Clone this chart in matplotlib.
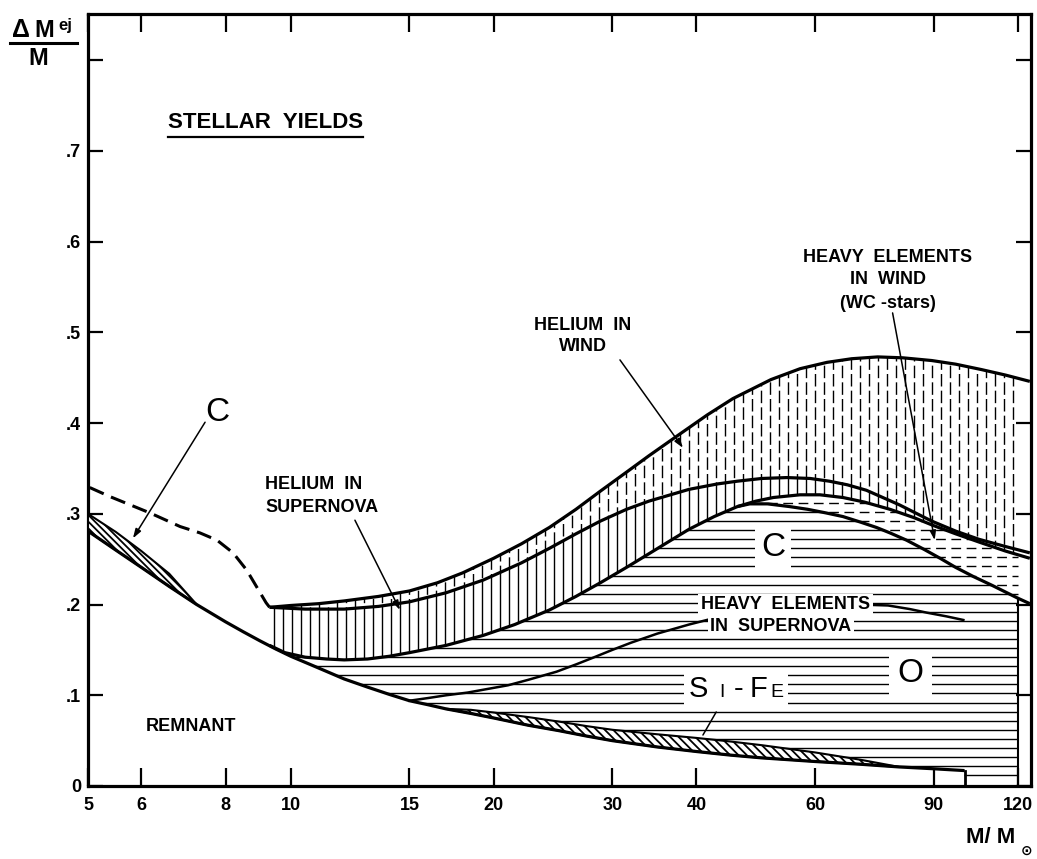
import numpy as np
import matplotlib.pyplot as plt
from matplotlib.patches import Polygon, Rectangle
from matplotlib.collections import LineCollection
from matplotlib.lines import Line2D
from matplotlib.ticker import NullLocator
from matplotlib.transforms import Bbox

plt.rcParams['font.family'] = ['Liberation Sans', 'DejaVu Sans']
plt.rcParams['hatch.linewidth'] = 1.3

# ---- curves (x = M/Msun, y = dM_ej/M) ----
remnant_m = np.array([5, 5.5, 6, 6.6, 7.25, 8, 8.5, 9, 9.5, 10, 11, 12, 13, 14, 15, 16, 17, 18.5, 20,
                      22.5, 25, 27.5, 30, 35, 40, 45, 50, 60, 70, 80, 90, 100])
remnant_y = np.array([0.281, 0.260, 0.241, 0.220, 0.200, 0.181, 0.170, 0.160, 0.151, 0.143, 0.130, 0.118,
                      0.109, 0.101, 0.094, 0.0895, 0.085, 0.080, 0.075, 0.067, 0.061, 0.055, 0.050,
                      0.043, 0.038, 0.034, 0.031, 0.027, 0.024, 0.021, 0.019, 0.017])

# carbon band of the low mass stars
ctop_m = np.array([5, 5.5, 6, 6.6, 7.25])
ctop_y = np.array([0.300, 0.280, 0.259, 0.234, 0.200])

# dashed curve, low masses
dash_m = np.array([5.03, 5.39, 6.18, 6.85, 7.33, 7.77, 8.21, 8.60, 8.89, 9.19, 9.3])
dash_y = np.array([0.329, 0.319, 0.301, 0.286, 0.279, 0.271, 0.257, 0.238, 0.220, 0.202, 0.197])

# top of helium in wind
top_m = np.array([9.3, 10, 11, 12, 13.5, 15, 16.5, 18, 20, 22, 24.2, 26.5, 28.8, 31.5, 34, 37.8, 41.5,
                  45.3, 51.6, 57, 62.5, 68, 74.3, 81, 89.4, 97, 106, 115, 125])
top_y = np.array([0.197, 0.199, 0.201, 0.204, 0.209, 0.215, 0.224, 0.235, 0.251, 0.267, 0.285, 0.305,
                  0.325, 0.346, 0.364, 0.388, 0.409, 0.427, 0.448, 0.460, 0.467, 0.471, 0.473, 0.472,
                  0.469, 0.465, 0.459, 0.453, 0.446])

# helium in wind / helium in supernova
mid_m = np.array([9.3, 10.5, 12, 13.5, 15, 17, 19.3, 22, 24.2, 26.5, 28.8, 31.5, 34, 39, 43, 46, 50,
                  54.5, 59, 63, 67, 71.5, 80, 89.4, 97, 105, 115, 125])
mid_y = np.array([0.197, 0.195, 0.195, 0.198, 0.203, 0.213, 0.227, 0.246, 0.262, 0.278, 0.292, 0.305,
                  0.314, 0.327, 0.333, 0.336, 0.339, 0.340, 0.339, 0.336, 0.332, 0.326, 0.310, 0.292,
                  0.281, 0.272, 0.264, 0.257])

# top of heavy elements
heavy_m = np.array([9.3, 9.8, 10.5, 11.3, 12, 13, 14, 15, 17, 19.3, 21.5, 24.2, 26.5, 28.8, 31.5, 34,
                    36.5, 39, 42.5, 46, 49, 52, 57, 61, 66, 71, 77.5, 84, 90, 97, 105, 115, 125])
heavy_y = np.array([0.155, 0.147, 0.142, 0.140, 0.139, 0.140, 0.143, 0.147, 0.155, 0.166, 0.178, 0.194,
                    0.209, 0.224, 0.241, 0.256, 0.270, 0.283, 0.297, 0.308, 0.314, 0.318, 0.321, 0.321,
                    0.318, 0.313, 0.305, 0.296, 0.287, 0.278, 0.269, 0.259, 0.251])

# top of heavy elements ejected by the supernova (WC stars above)
sn_m = np.array([46, 48, 51, 55, 58.5, 62.3, 66, 70, 74, 77.5, 82, 87, 92, 97, 103, 110, 120, 125])
sn_y = np.array([0.308, 0.311, 0.311, 0.308, 0.305, 0.301, 0.297, 0.291, 0.285, 0.279, 0.271, 0.261,
                 0.251, 0.241, 0.231, 0.221, 0.207, 0.201])

# C / O boundary ("heavy elements in supernova" line)
co_m = np.array([15, 16, 17, 18.3, 19.6, 21, 22.5, 24.8, 26.5, 28, 30, 32, 35, 39, 43, 47, 52, 57, 63,
                 70, 77, 83, 88, 94, 99.6])
co_y = np.array([0.094, 0.097, 0.100, 0.103, 0.107, 0.111, 0.117, 0.126, 0.134, 0.141, 0.150, 0.158,
                 0.168, 0.178, 0.186, 0.191, 0.195, 0.198, 0.200, 0.200, 0.199, 0.195, 0.191, 0.187,
                 0.183])

# Si-Fe band top
sife_m = np.array([17, 18.5, 20, 22.5, 25, 27.5, 30, 35, 40, 45, 50, 60, 70, 80])
sife_y = np.array([0.085, 0.084, 0.081, 0.076, 0.071, 0.066, 0.062, 0.057, 0.053, 0.049, 0.045, 0.037,
                   0.029, 0.021])

x_ticks = [5, 6, 8, 10, 15, 20, 30, 40, 60, 90, 120]
y_ticks = [0, .1, .2, .3, .4, .5, .6, .7, .8]
y_labels = ['0', '.1', '.2', '.3', '.4', '.5', '.6', '.7', '']


fig = plt.figure(figsize=(10.37, 8.59), dpi=100)
ax = fig.add_axes([88 / 1037, 73 / 859, 943 / 1037, 772 / 859])
ax.set_xscale('log')
ax.set_xlim(5, 125.5)
ax.set_ylim(0, 0.851)


def region(xa, ya, xb, yb):
    # outline: curve a forwards, curve b backwards
    pts = np.column_stack([np.r_[xa, xb[::-1]], np.r_[ya, yb[::-1]]])
    p = Polygon(pts, closed=True, facecolor='none', edgecolor='none')
    ax.add_patch(p)
    return p


wind = region(top_m, top_y, mid_m, mid_y)
he_sn = region(mid_m, mid_y, heavy_m, heavy_y)
keep = heavy_m <= 46
low = remnant_m >= 9.3
heavy = region(np.r_[heavy_m[keep], sn_m[1:]], np.r_[heavy_y[keep], sn_y[1:]],
               np.r_[remnant_m[low], remnant_m[-1], 125], np.r_[remnant_y[low], 0, 0])
wc = region(sn_m, sn_y, heavy_m[heavy_m >= 46], heavy_y[heavy_m >= 46])

# hatching
vx = np.exp(np.arange(np.log(9.45), np.log(120.5), 0.0308))
vsegs = [[(x, 0), (x, 0.6)] for x in vx]
lc = LineCollection(vsegs, colors='k', linewidths=1.0, zorder=2)
lc.set_clip_path(he_sn)
ax.add_collection(lc)
for i, off in enumerate([0, 6]):
    lc = LineCollection(vsegs[i::2], colors='k', linewidths=1.0, zorder=2, linestyles=[(off, (9, 3))])
    lc.set_clip_path(wind)
    ax.add_collection(lc)

hy = np.arange(0.012, 0.40, 0.01)
lc = LineCollection([[(9.3, y), (120, y)] for y in hy], colors='k', linewidths=1.0, zorder=2)
lc.set_clip_path(heavy)
ax.add_collection(lc)
lc = LineCollection([[(46, y), (120, y)] for y in hy], colors='k', linewidths=1.0, zorder=2,
                    linestyles=[(0, (7, 4))])
lc.set_clip_path(wc)
ax.add_collection(lc)

# thin bands
rs = (remnant_m >= 17) & (remnant_m <= 80)
ax.fill(np.r_[sife_m, remnant_m[rs][::-1]], np.r_[sife_y, remnant_y[rs][::-1]],
        facecolor='white', edgecolor='k', hatch='\\\\\\\\', lw=1.5, zorder=3)
ax.fill(np.r_[ctop_m, remnant_m[:5][::-1]], np.r_[ctop_y, remnant_y[:5][::-1]],
        facecolor='white', edgecolor='k', hatch='\\\\\\\\\\', lw=1.5, zorder=3)

# boundary curves
kw = dict(color='k', lw=2.3, zorder=4, solid_capstyle='butt', solid_joinstyle='round')
ax.plot(remnant_m, remnant_y, **kw)
ax.plot(top_m, top_y, **kw)
ax.plot(mid_m, mid_y, **kw)
ax.plot(heavy_m, heavy_y, **kw)
ax.plot(sn_m, sn_y, **kw)
ax.plot(co_m, co_y, color='k', lw=1.8, zorder=4)
ax.plot(dash_m, dash_y, color='k', lw=2.2, ls=(0, (5, 2.6)), zorder=4)
ax.plot([remnant_m[-1]] * 2, [remnant_y[-1], 0], color='k', lw=2.0, zorder=4)
ax.plot([sn_m[-2]] * 2, [0, sn_y[-2]], color='k', lw=1.5, zorder=4)

# labels
box = dict(facecolor='white', edgecolor='none', pad=2)
bold = dict(fontweight='bold', fontsize=13, color='k', zorder=6)
ax.text(7.11, 0.0656, 'REMNANT', ha='center', va='center', **bold)
ax.text(9.16, 0.3324, 'HELIUM  IN', ha='left', va='center', **bold)
ax.text(9.16, 0.307, 'SUPERNOVA', ha='left', va='center', **bold)
ax.text(27.1, 0.508, 'HELIUM  IN', ha='center', va='center', **bold)
ax.text(27.1, 0.4846, 'WIND', ha='center', va='center', **bold)
ax.text(76.9, 0.5827, 'HEAVY  ELEMENTS', ha='center', va='center', **bold)
ax.text(76.9, 0.5579, 'IN  WIND', ha='center', va='center', **bold)
ax.text(76.9, 0.532, '(WC -stars)', ha='center', va='center', **bold)
ax.text(54.2, 0.1996, 'HEAVY  ELEMENTS', ha='center', va='center', bbox=box, **bold)
ax.text(53.4, 0.1753, 'IN  SUPERNOVA', ha='center', va='center', bbox=box, **bold)
ax.text(7.77, 0.412, 'C', ha='center', va='center', fontsize=24, zorder=6)
ax.text(52.0, 0.2624, 'C', ha='center', va='center', fontsize=24, zorder=6,
        bbox=dict(facecolor='white', edgecolor='none', pad=4))
ax.text(83.2, 0.1235, 'O', ha='center', va='center', fontsize=24, zorder=6,
        bbox=dict(facecolor='white', edgecolor='none', pad=6))

# Si-Fe in small capitals
sife_txt = []
for s, dx, fs in [('S', 0, 21), ('I', 17, 14), ('-', 29, 21), ('F', 43, 21), ('E', 56, 14)]:
    sife_txt.append(ax.annotate(s, xy=(40.3, 0.0981), xytext=(dx, 0), textcoords='offset points',
                                ha='center', va='baseline', fontsize=fs, zorder=6))

title = ax.text(6.57, 0.7255, 'STELLAR  YIELDS', ha='left', va='baseline', fontsize=16,
                fontweight='bold', zorder=6)

# pointers
head = dict(arrowstyle='-|>,head_length=0.55,head_width=0.18', color='k', lw=1.1,
            shrinkA=0, shrinkB=0)
plain = dict(arrowstyle='-', color='k', lw=1.1, shrinkA=0, shrinkB=0)
ax.annotate('', xy=(5.83, 0.273), xytext=(7.46, 0.401), arrowprops=head, zorder=6)
ax.annotate('', xy=(14.52, 0.194), xytext=(12.45, 0.293), arrowprops=head, zorder=6)
ax.annotate('', xy=(38.2, 0.3727), xytext=(30.8, 0.4697), arrowprops=head, zorder=6)
ax.annotate('', xy=(90.3, 0.271), xytext=(78.2, 0.5215), arrowprops=head, zorder=6)
ax.annotate('', xy=(40.9, 0.0562), xytext=(42.8, 0.0816), arrowprops=plain, zorder=6)

# axes
ax.set_xticks(x_ticks)
ax.set_xticklabels([str(v) for v in x_ticks])
ax.xaxis.set_minor_locator(NullLocator())
ax.set_yticks(y_ticks)
ax.set_yticklabels(y_labels)
ax.tick_params(axis='x', which='major', direction='in', length=13, width=1.6, top=True,
               pad=8, labelsize=13)
ax.tick_params(axis='y', which='major', direction='in', length=11, width=1.6, right=True,
               pad=5, labelsize=13)
for lbl in ax.get_xticklabels() + ax.get_yticklabels():
    lbl.set_fontweight('bold')
for sp in ax.spines.values():
    sp.set_linewidth(2.3)

# axis titles
fig.text(12 / 1037, 1 - 37 / 859, '\u0394', fontsize=18, fontweight='bold', va='baseline')
fig.text(34 / 1037, 1 - 37 / 859, 'M', fontsize=17, fontweight='bold', va='baseline')
fig.text(58 / 1037, 1 - 30 / 859, 'ej', fontsize=12, fontweight='bold', va='baseline')
fig.add_artist(Line2D([10 / 1037, 77 / 1037], [1 - 43 / 859] * 2, lw=2.2, color='k'))
fig.text(38 / 1037, 1 - 65 / 859, 'M', fontsize=17, fontweight='bold', va='baseline', ha='center')
fig.text(1015 / 1037, 1 - 843 / 859, 'M/ M', fontsize=16, fontweight='bold', va='baseline', ha='right')
fig.text(1027 / 1037, 1 - 851 / 859, '\u2299', fontsize=10, fontweight='bold', va='center', ha='center')

# underline the title, white patch behind Si-Fe
fig.canvas.draw()
W, H = fig.bbox.width, fig.bbox.height
bb = title.get_window_extent()
fig.add_artist(Line2D([bb.x0 / W, bb.x1 / W], [(bb.y0 - 4) / H] * 2, lw=1.6, color='k'))
sb = Bbox.union([t.get_window_extent() for t in sife_txt]).expanded(1.0, 1.0)
sb = Bbox.from_extents(sb.x0 - 5, sb.y0 - 3, sb.x1 + 5, sb.y1 + 3)
sb = sb.transformed(ax.transAxes.inverted())
ax.add_patch(Rectangle((sb.x0, sb.y0), sb.width, sb.height, transform=ax.transAxes,
                       facecolor='white', edgecolor='none', zorder=5))

fig.savefig('out.png', dpi=100)
